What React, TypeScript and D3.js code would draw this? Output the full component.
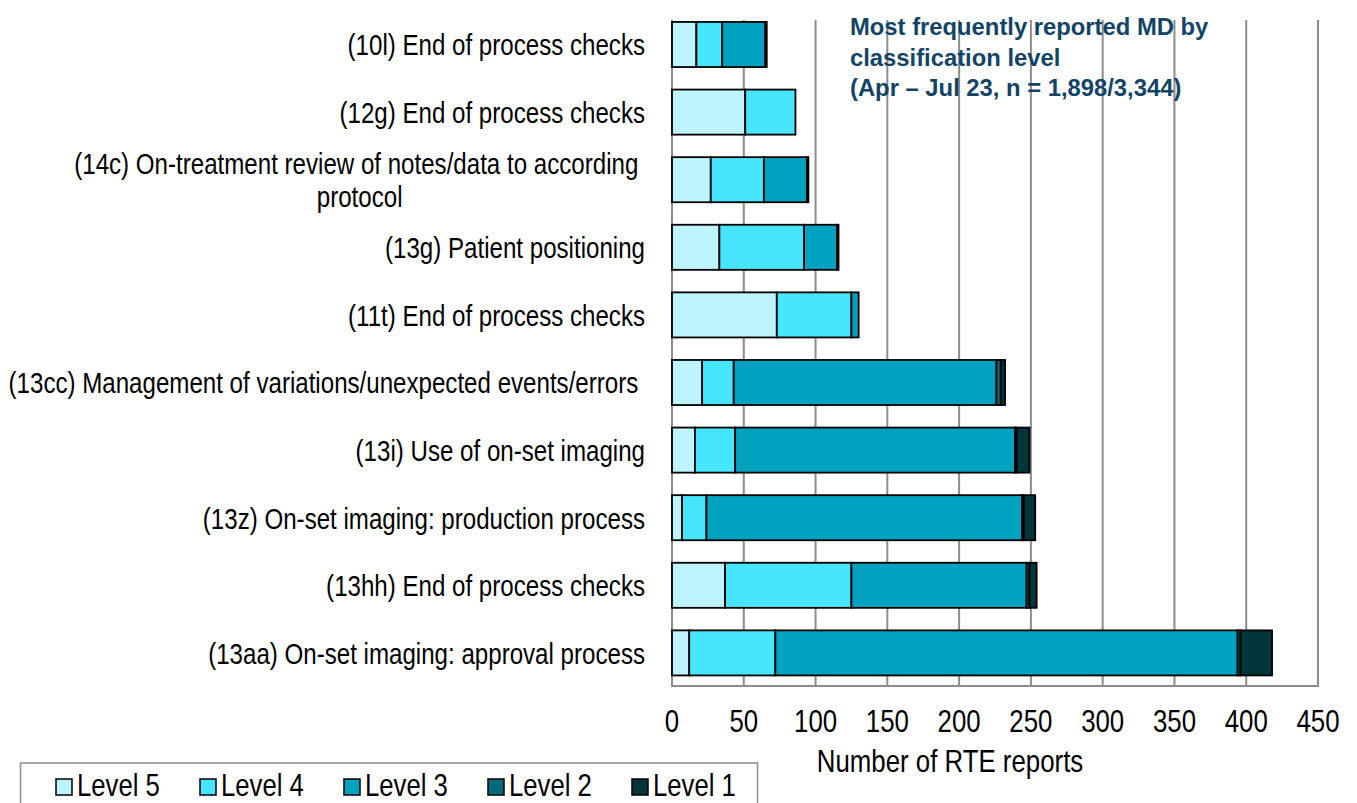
import * as d3 from "d3";
import React, { useRef, useEffect } from "react";

// categories, top to bottom
const categories = [
  "(10l) End of process checks",
  "(12g) End of process checks",
  "(14c) On-treatment review of notes/data to according \nprotocol",
  "(13g) Patient positioning",
  "(11t) End of process checks",
  "(13cc) Management of variations/unexpected events/errors ",
  "(13i) Use of on-set imaging",
  "(13z) On-set imaging: production process",
  "(13hh) End of process checks",
  "(13aa) On-set imaging: approval process",
];

const level5 = [17, 51, 27, 33, 73, 21, 16, 7, 37, 12];
const level4 = [18, 35, 37, 59, 52, 22, 28, 17, 88, 60];
const level3 = [30, 0, 30, 23, 5, 183, 195, 220, 122, 322];
const level2 = [1, 0, 1, 1, 0, 3, 1, 1, 2, 2];
const level1 = [0, 0, 0, 0, 0, 3, 9, 8, 5, 22];

const levelNames = ["Level 5", "Level 4", "Level 3", "Level 2", "Level 1"];
const levelColors = ["#bdf4ff", "#48e5ff", "#00a2bf", "#036a7c", "#02353a"];

const xTicks = [0, 50, 100, 150, 200, 250, 300, 350, 400, 450];

const titleLines = [
  "Most frequently reported MD by",
  "classification level",
  "(Apr \u2013 Jul 23, n = 1,898/3,344)",
];

const FONT = "'Liberation Sans', Arial, sans-serif";

const App = () => {
  const svgRef = useRef<SVGSVGElement>(null);

  useEffect(() => {
    document.body.style.margin = "0";
    const svg = d3.select(svgRef.current);
    svg.selectAll("*").remove();

    // no Arial Narrow installed, so squeeze Arial horizontally
    const narrowText = (
      parent: any,
      tx: number,
      ty: number,
      str: string,
      anchor = "start",
      fs = 30,
      sx = 0.804
    ) =>
      parent
        .append("text")
        .attr("transform", `translate(${tx},${ty}) scale(${sx},1)`)
        .attr("text-anchor", anchor)
        .attr("font-family", FONT)
        .attr("font-size", fs)
        .attr("fill", "#000")
        .style("white-space", "pre")
        .text(str);

    const plot = { left: 672, right: 1318, top: 20, bottom: 686 };

    const x = d3.scaleLinear().domain([0, 450]).range([plot.left, plot.right]);
    const y = d3
      .scaleBand()
      .domain(categories)
      .range([10.7, 686.7])
      .paddingInner(1 / 3)
      .paddingOuter(1 / 6);

    const rows = categories.map((c, i) => ({
      cat: c,
      "Level 5": level5[i],
      "Level 4": level4[i],
      "Level 3": level3[i],
      "Level 2": level2[i],
      "Level 1": level1[i],
    }));
    const series = d3.stack<any>().keys(levelNames)(rows);

    // gridlines
    svg
      .append("g")
      .selectAll("line")
      .data(xTicks.slice(1, -1))
      .enter()
      .append("line")
      .attr("x1", (d) => x(d))
      .attr("x2", (d) => x(d))
      .attr("y1", plot.top)
      .attr("y2", plot.bottom)
      .attr("stroke", "#8c8c8c")
      .attr("stroke-width", 2);

    // frame: left, bottom, right
    svg
      .append("path")
      .attr(
        "d",
        `M${plot.left},${plot.top}V${plot.bottom}H${plot.right}V${plot.top}`
      )
      .attr("fill", "none")
      .attr("stroke", "#8c8c8c")
      .attr("stroke-width", 2);

    // bars
    svg
      .append("g")
      .selectAll("g")
      .data(series)
      .enter()
      .append("g")
      .attr("fill", (d, i) => levelColors[i])
      .selectAll("rect")
      .data((d) => d.filter((s) => s[1] - s[0] > 0))
      .enter()
      .append("rect")
      .attr("x", (d) => x(d[0]))
      .attr("width", (d) => x(d[1]) - x(d[0]))
      .attr("y", (d) => y(d.data.cat)!)
      .attr("height", y.bandwidth())
      .attr("stroke", "#000")
      .attr("stroke-width", 1.8);

    // category labels
    const labelX = 645;
    categories.forEach((c) => {
      const lines = c.split("\n");
      const cy = y(c)! + y.bandwidth() / 2;
      const g = svg.append("g");
      if (lines.length === 1) {
        narrowText(g, labelX, cy + 10.8, lines[0], "end");
      } else {
        // centred block, right edge at labelX
        const tmp = lines.map((line) => narrowText(g, 0, 0, line));
        const maxW =
          d3.max(tmp.map((t: any) => (t.node() as SVGTextElement).getComputedTextLength()))! * 0.804;
        tmp.forEach((t: any) => t.remove());
        lines.forEach((line, li) =>
          narrowText(g, labelX - maxW / 2, cy + 10.8 + (li - (lines.length - 1) / 2) * 33, line, "middle")
        );
      }
    });

    // x tick labels
    const ticks = svg.append("g");
    xTicks.forEach((t) => narrowText(ticks, x(t), 731.5, String(t), "middle", 31.5, 0.82));

    narrowText(svg, 950, 772, "Number of RTE reports", "middle", 31.5, 0.82);

    // title
    svg
      .append("g")
      .selectAll("text")
      .data(titleLines)
      .enter()
      .append("text")
      .attr("x", 850)
      .attr("y", (d, i) => 35 + i * 30.6)
      .attr("font-family", FONT)
      .attr("font-weight", "bold")
      .attr("font-size", 23.8)
      .attr("fill", "#134466")
      .text((d) => d);

    // legend
    const legend = svg.append("g");
    legend
      .append("rect")
      .attr("x", 20.5)
      .attr("y", 763)
      .attr("width", 737)
      .attr("height", 60)
      .attr("fill", "#fff")
      .attr("stroke", "#8c8c8c")
      .attr("stroke-width", 1.5);
    levelNames.forEach((name, i) => {
      const item = legend.append("g").attr("transform", `translate(${56 + i * 144},779)`);
      item
        .append("rect")
        .attr("width", 16)
        .attr("height", 16)
        .attr("fill", levelColors[i])
        .attr("stroke", "#000")
        .attr("stroke-width", 1.5);
      narrowText(item, 21, 17, name, "start", 31, 0.83);
    });
  }, []);

  return <svg ref={svgRef} width={1357} height={803} style={{ display: "block" }} />;
};

export default App;
